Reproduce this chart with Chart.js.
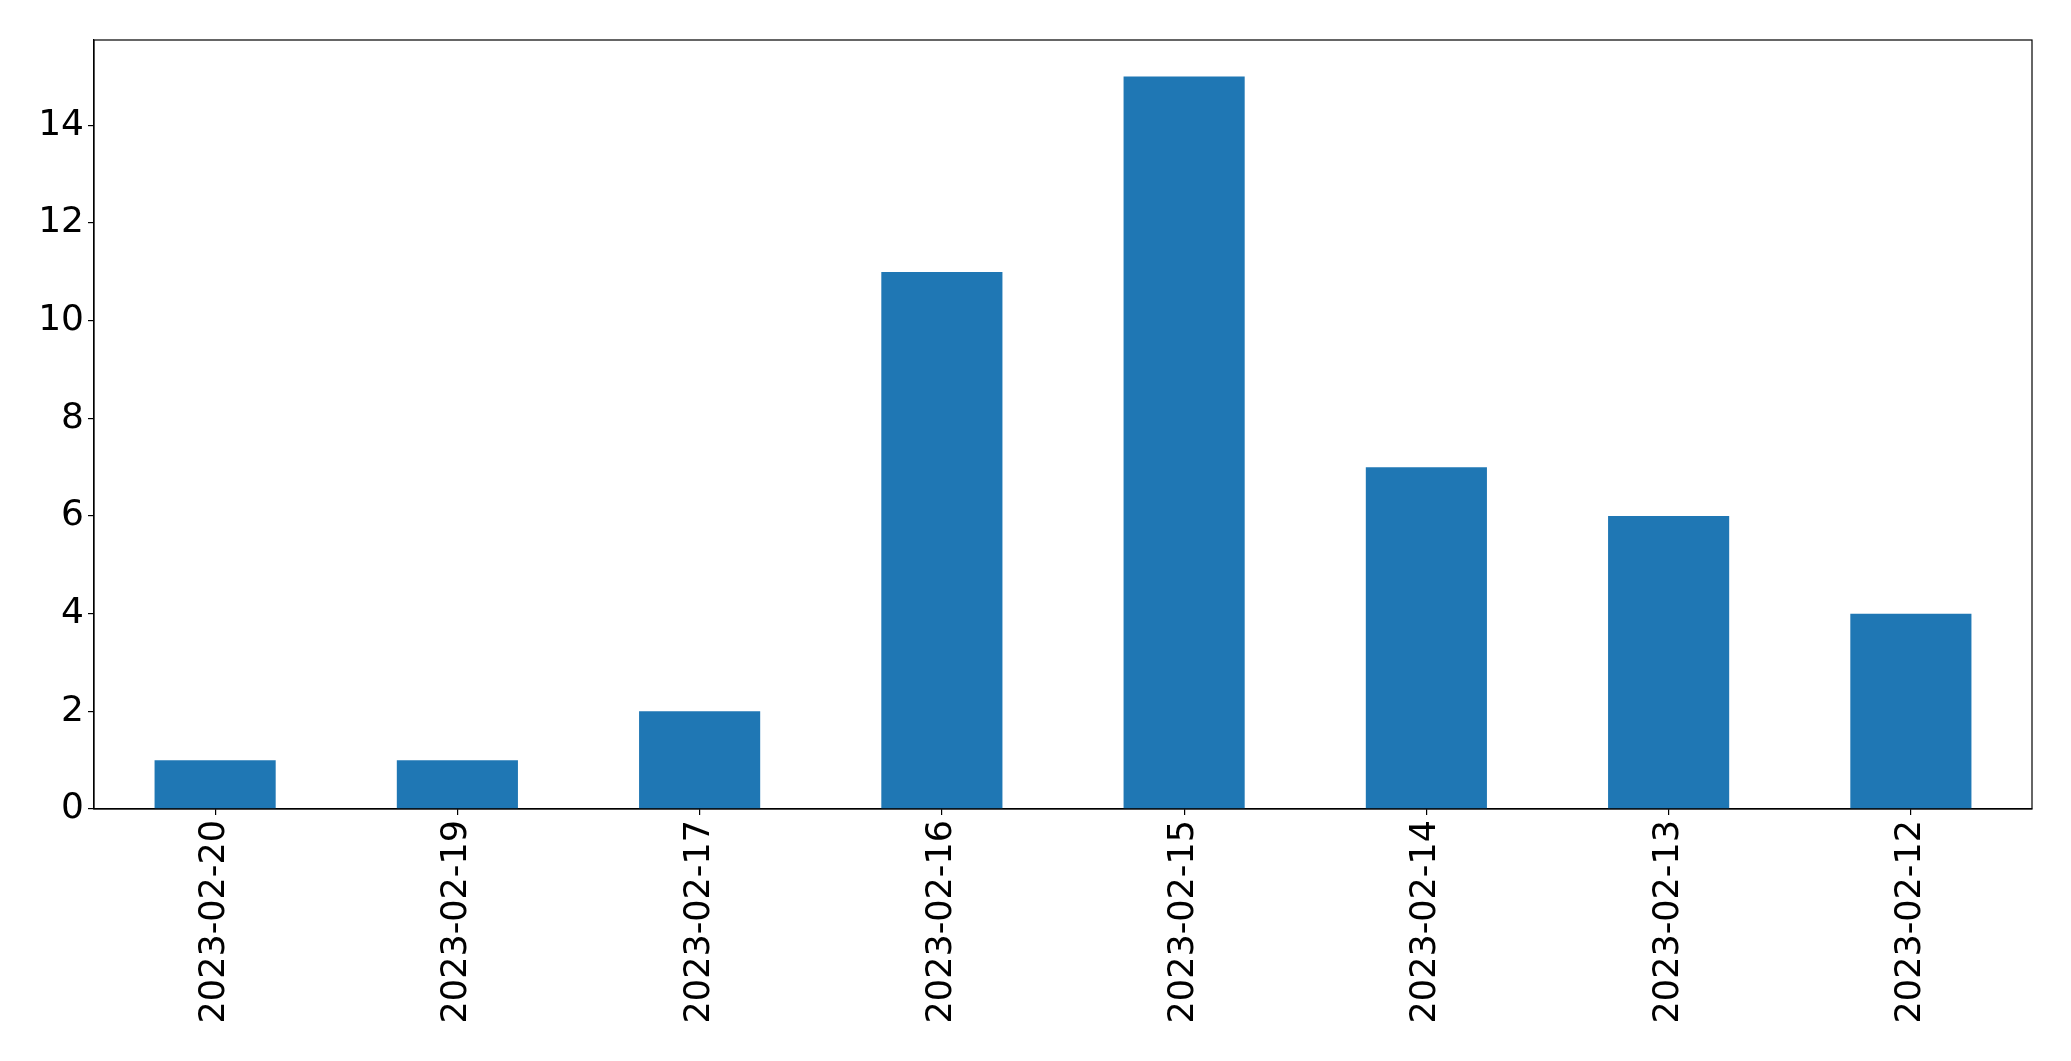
<!DOCTYPE html>
<html>
<head>
<meta charset="utf-8">
<script src="https://cdn.jsdelivr.net/npm/chart.js@4/dist/chart.umd.min.js"></script>
<style>
html,body{margin:0;padding:0;background:#fff;}
canvas{display:block;}
</style>
</head>
<body>
<canvas id="c" width="2071" height="1061"></canvas>
<script>
const categories = ["2023-02-20","2023-02-19","2023-02-17","2023-02-16","2023-02-15","2023-02-14","2023-02-13","2023-02-12"];
const values = [1, 1, 2, 11, 15, 7, 6, 4];
const yTicks = [0, 2, 4, 6, 8, 10, 12, 14];
const yMax = 15.75;

const frame = {
  id: 'frame',
  afterDraw(chart) {
    const a = chart.chartArea, ctx = chart.ctx;
    ctx.save();
    ctx.strokeStyle = '#000';
    ctx.lineWidth = 1.2;
    ctx.strokeRect(a.left, a.top, a.right - a.left, a.bottom - a.top);
    ctx.restore();
  }
};

new Chart(document.getElementById('c'), {
  type: 'bar',
  data: {
    labels: categories,
    datasets: [{ data: values, backgroundColor: '#1f77b4', borderWidth: 0,
      categoryPercentage: 1.0, barPercentage: 0.5 }]
  },
  options: {
    responsive: false,
    animation: false,
    layout: { padding: { top: 40, right: 39, left: 0, bottom: 0 } },
    plugins: { legend: { display: false }, tooltip: { enabled: false } },
    scales: {
      x: {
        offset: true,
        grid: { offset: false, drawOnChartArea: false, drawTicks: true, tickLength: 6, color: '#000', lineWidth: 1.2 },
        border: { display: true, color: '#000', width: 1.2 },
        ticks: { color: '#000', font: { family: 'DejaVu Sans', size: 35 }, minRotation: 90, maxRotation: 90, padding: 5, autoSkip: false },
        afterFit(s) { s.height = 252; }
      },
      y: {
        min: 0, max: yMax,
        grid: { drawOnChartArea: false, drawTicks: true, tickLength: 6, color: '#000', lineWidth: 1.2 },
        border: { display: true, color: '#000', width: 1.2 },
        ticks: { color: '#000', font: { family: 'DejaVu Sans', size: 36 }, stepSize: 2, includeBounds: false, padding: 4 },
        afterBuildTicks(s) { s.ticks = yTicks.map(v => ({ value: v })); },
        afterFit(s) { s.width = 94; }
      }
    }
  },
  plugins: [frame]
});
</script>
</body>
</html>
